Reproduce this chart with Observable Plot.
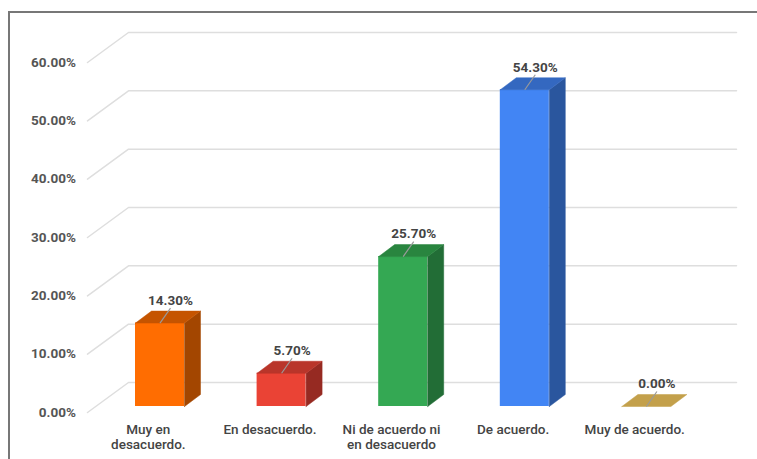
<!DOCTYPE html>
<html><head><meta charset="utf-8">
<script src="https://cdn.jsdelivr.net/npm/d3@7"></script>
<script src="https://cdn.jsdelivr.net/npm/@observablehq/plot@0.6"></script>
<style>
body{margin:0;background:#fff;}
#wrap{position:relative;width:757px;height:459px;overflow:hidden;background:#fff;}
#border{position:absolute;left:8px;top:11px;width:760px;height:460px;border-top:2px solid #777;border-left:2px solid #777;}
#chart{position:absolute;left:0;top:0;}
</style></head><body>
<div id="wrap"><div id="border"></div><div id="chart"></div></div>
<script>
// ---- data ----
const categories = ["Muy en\ndesacuerdo.", "En desacuerdo.", "Ni de acuerdo ni\nen desacuerdo", "De acuerdo.", "Muy de acuerdo."];
const values = [14.3, 5.7, 25.7, 54.3, 0.0];
const valueLabels = ["14.30%", "5.70%", "25.70%", "54.30%", "0.00%"];
const ticks = [0, 10, 20, 30, 40, 50, 60];
const tickLabels = ["0.00%", "10.00%", "20.00%", "30.00%", "40.00%", "50.00%", "60.00%"];
const frontColors = ["#FF6D01", "#EA4335", "#34A853", "#4285F4", "#F4C65A"];
const topColors = ["#C55400", "#B9352A", "#29853F", "#3468C0", "#C3A04B"];
const sideColors = ["#A34600", "#962A22", "#226D36", "#2A569E", "#9E823C"];

// ---- geometry of the 3D look (pixels) ----
const W = 757, H = 459;
const X0 = 87, X1 = 695, YB = 412, YT = 62;
const kx = (X1 - X0) / categories.length, ky = (YB - YT) / 60;
const ux = p => p / kx, uy = p => p / ky;
const barOff = [11.7, 6], barDepth = [16, 12], barHalf = 24.5, wallDepth = [41, 30];

// gridlines (front diagonal + back wall line)
const grid = [];
ticks.forEach(t => {
  grid.push({t, x: -0.5, y: t});
  grid.push({t, x: -0.5 + ux(wallDepth[0]), y: t + uy(wallDepth[1])});
  grid.push({t, x: categories.length - 0.5 + ux(wallDepth[0]), y: t + uy(wallDepth[1])});
});

// bars
const fronts = [], faces = [], tops = [];
values.forEach((v, i) => {
  const cx = i + ux(barOff[0]);
  const xl = cx - ux(barHalf), xr = cx + ux(barHalf);
  const y0 = uy(barOff[1]), y1 = v + uy(barOff[1]);
  const ddx = ux(barDepth[0]), ddy = uy(barDepth[1]);
  if (v > 0) fronts.push({x1: xl, x2: xr, y1: y0, y2: y1, color: frontColors[i]});
  const side = [[xr, y0], [xr, y1], [xr + ddx, y1 + ddy], [xr + ddx, y0 + ddy], [xr, y0]];
  const top = [[xl, y1], [xr, y1], [xr + ddx, y1 + ddy], [xl + ddx, y1 + ddy], [xl, y1]];
  if (v > 0) side.forEach(([x, y]) => faces.push({id: "s" + i, x, y, color: sideColors[i]}));
  top.forEach(([x, y]) => faces.push({id: "t" + i, x, y, color: topColors[i]}));
  tops.push({cx, top: y1, i});
});

const plot = Plot.plot({
  width: W, height: H,
  margin: 0,
  x: {type: "linear", domain: [-0.5, categories.length - 0.5], range: [X0, X1], axis: null},
  y: {type: "linear", domain: [0, 60], range: [YB, YT], axis: null},
  color: {type: "identity"},
  style: {fontFamily: "Roboto, Arial, sans-serif", background: "transparent"},
  marks: [
    Plot.line(grid, {x: "x", y: "y", z: "t", stroke: "#dedede", strokeWidth: 1.5}),
    Plot.rect(fronts, {x1: "x1", x2: "x2", y1: "y1", y2: "y2", fill: "color"}),
    Plot.line(faces, {x: "x", y: "y", z: "id", fill: "color", stroke: "color", strokeWidth: 0.5}),
    Plot.link(tops, {x1: "cx", y1: "top", x2: d => d.cx + ux(10.5), y2: d => d.top + uy(15), stroke: "#9a9a9a", strokeWidth: 1.2}),
    Plot.text(tops, {x: "cx", y: "top", text: d => valueLabels[d.i], dx: 10.5, dy: -22.5, fill: "#444", fontSize: 13.5, fontWeight: "bold"}),
    Plot.text(ticks, {x: () => -0.5, y: d => d, text: (d, i) => tickLabels[i], textAnchor: "end", dx: -11.5, fill: "#555", fontSize: 13.5, fontWeight: "bold"}),
    Plot.text(categories, {x: (d, i) => i, y: () => 0, text: d => d, lineAnchor: "top", dy: 10.5, lineHeight: 1.12, fill: "#444", fontSize: 13.5, fontWeight: 500})
  ]
});
document.getElementById("chart").appendChild(plot);
</script>
</body></html>
